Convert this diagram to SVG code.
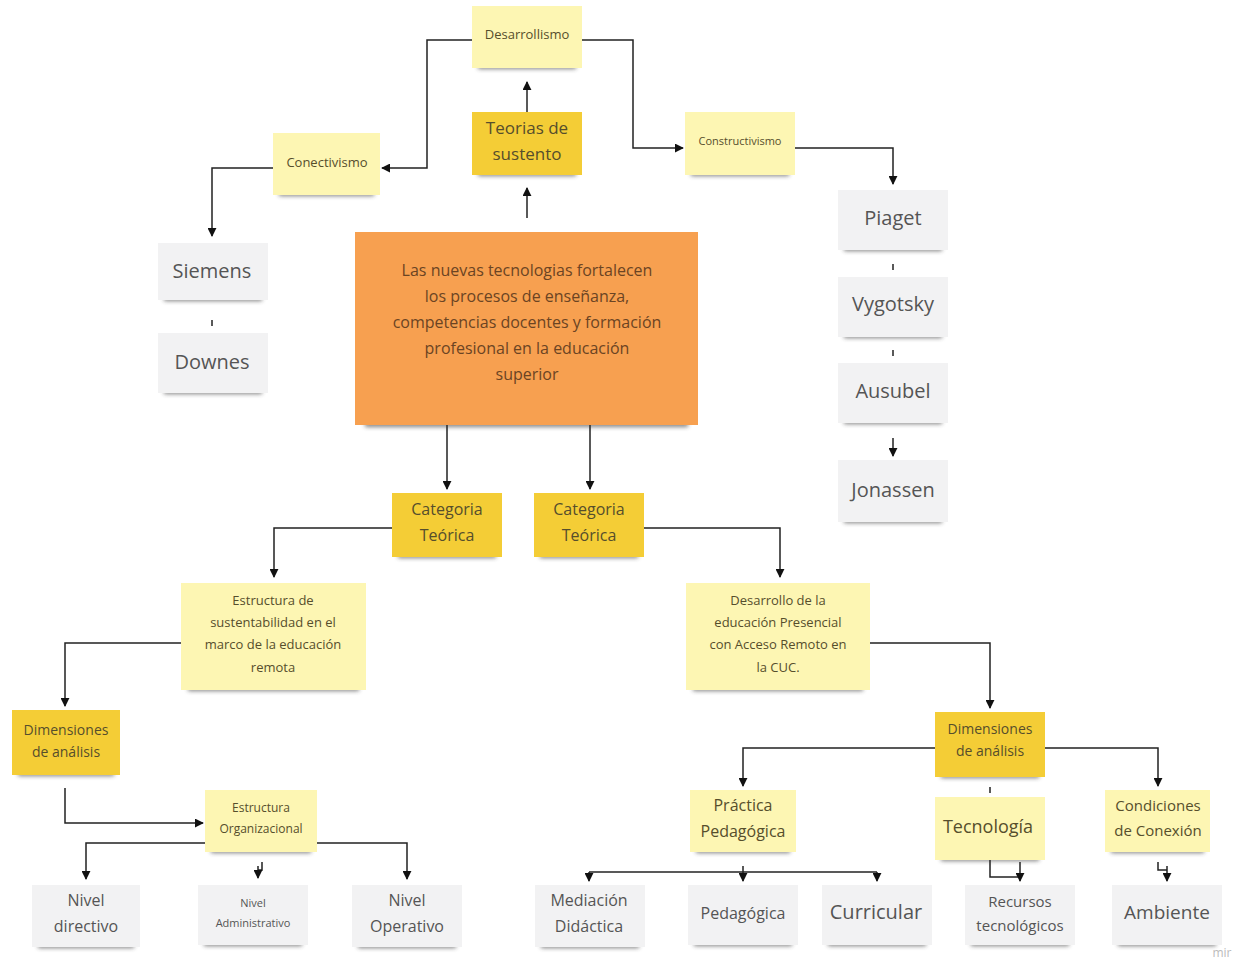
<svg xmlns="http://www.w3.org/2000/svg" width="1244" height="962" viewBox="0 0 1244 962">
<defs>
<filter id="blur" x="-20%" y="-200%" width="140%" height="500%"><feGaussianBlur stdDeviation="2"/></filter>
<marker id="ah" viewBox="0 0 10 10" refX="9" refY="5" markerWidth="9" markerHeight="9" orient="auto-start-reverse" markerUnits="userSpaceOnUse"><path d="M0,0 L10,5 L0,10 z" fill="#111"/></marker>
<style>
.bg{fill:#ffffff}
.py{fill:#fdf6b3}
.gd{fill:#f4cd36}
.gy{fill:#f2f2f3}
.or{fill:#f7a050}
.sh{fill:#333;opacity:.6;filter:url(#blur)}
text{font-family:"Open Sans","Noto Sans","Liberation Sans",sans-serif;text-anchor:middle}
.ty{fill:#564e2c}
.tg{fill:#555555}
.to{fill:#6b4423}
.ln{fill:none;stroke:#222;stroke-width:1.5}
.ar{fill:none;stroke:#222;stroke-width:1.5;marker-end:url(#ah)}
</style>
</defs>
<rect class="bg" x="0" y="0" width="1244" height="962"/>

<g id="connectors">
<path class="ar" d="M527,112 V82"/>
<path class="ar" d="M527,218 V188"/>
<path class="ar" d="M472,40 H427 V168 H382"/>
<path class="ar" d="M582,40 H633 V148 H683"/>
<path class="ar" d="M795,148 H893 V184"/>
<path class="ar" d="M273,168 H212 V236"/>
<path class="ln" d="M212,320 V326"/>
<path class="ln" d="M893,264 V270"/>
<path class="ln" d="M893,350 V356"/>
<path class="ar" d="M893,438 V456"/>
<path class="ar" d="M447,425 V489"/>
<path class="ar" d="M590,425 V489"/>
<path class="ar" d="M392,528 H274 V577"/>
<path class="ar" d="M644,528 H780 V577"/>
<path class="ar" d="M181,643 H65 V706"/>
<path class="ar" d="M65,788 V823 H203"/>
<path class="ar" d="M205,843 H86 V879"/>
<path class="ar" d="M317,843 H407 V879"/>
<path class="ln" d="M262,862 V870 H258"/>
<path class="ar" d="M258,866 V878"/>
<path class="ar" d="M870,643 H990 V708"/>
<path class="ar" d="M935,748 H743 V786"/>
<path class="ar" d="M1045,748 H1158 V786"/>
<path class="ln" d="M990,787 V793"/>
<path class="ln" d="M589,872 H877"/>
<path class="ar" d="M589,872 V881"/>
<path class="ar" d="M743,866 V881"/>
<path class="ar" d="M877,872 V881"/>
<path class="ln" d="M990,860 V877 H1020"/>
<path class="ar" d="M1020,862 V881"/>
<path class="ln" d="M1158,862 V870 H1167"/>
<path class="ar" d="M1167,866 V881"/>
</g>

<g id="desarrollismo"><rect class="sh" x="478" y="64" width="98" height="5"/><rect class="py" x="472" y="6" width="110" height="62"/><text class="ty" x="527" y="39" font-size="13">Desarrollismo</text></g>
<g id="teorias"><rect class="sh" x="478" y="171" width="98" height="5"/><rect class="gd" x="472" y="112" width="110" height="63"/><text class="ty" x="527" y="134" font-size="17">Teorias de</text><text class="ty" x="527" y="160" font-size="17">sustento</text></g>
<g id="conectivismo"><rect class="sh" x="279" y="191" width="95" height="5"/><rect class="py" x="273" y="133" width="107" height="62"/><text class="ty" x="327" y="167" font-size="13">Conectivismo</text></g>
<g id="constructivismo"><rect class="sh" x="691" y="171" width="98" height="5"/><rect class="py" x="685" y="112" width="110" height="63"/><text class="ty" x="740" y="145" font-size="11">Constructivismo</text></g>
<g id="piaget"><rect class="sh" x="844" y="246" width="98" height="5"/><rect class="gy" x="838" y="190" width="110" height="60"/><text class="tg" x="893" y="225" font-size="20">Piaget</text></g>
<g id="vygotsky"><rect class="sh" x="844" y="333" width="98" height="5"/><rect class="gy" x="838" y="277" width="110" height="60"/><text class="tg" x="893" y="311" font-size="20">Vygotsky</text></g>
<g id="ausubel"><rect class="sh" x="844" y="419" width="98" height="5"/><rect class="gy" x="838" y="363" width="110" height="60"/><text class="tg" x="893" y="398" font-size="20">Ausubel</text></g>
<g id="jonassen"><rect class="sh" x="844" y="518" width="98" height="5"/><rect class="gy" x="838" y="460" width="110" height="62"/><text class="tg" x="893" y="497" font-size="20">Jonassen</text></g>
<g id="siemens"><rect class="sh" x="164" y="296" width="98" height="5"/><rect class="gy" x="158" y="243" width="110" height="57"/><text class="tg" x="212" y="278" font-size="20">Siemens</text></g>
<g id="downes"><rect class="sh" x="164" y="389" width="98" height="5"/><rect class="gy" x="158" y="333" width="110" height="60"/><text class="tg" x="212" y="369" font-size="20">Downes</text></g>

<g id="central"><rect class="sh" x="365" y="421" width="323" height="6"/><rect class="or" x="355" y="232" width="343" height="193"/>
<text class="to" x="527" y="276" font-size="16">Las nuevas tecnologias fortalecen</text>
<text class="to" x="527" y="302" font-size="16">los procesos de enseñanza,</text>
<text class="to" x="527" y="328" font-size="16">competencias docentes y formación</text>
<text class="to" x="527" y="354" font-size="16">profesional en la educación</text>
<text class="to" x="527" y="380" font-size="16">superior</text></g>

<g id="categoria1"><rect class="sh" x="398" y="553" width="98" height="5"/><rect class="gd" x="392" y="493" width="110" height="64"/><text class="ty" x="447" y="515" font-size="16">Categoria</text><text class="ty" x="447" y="541" font-size="16">Teórica</text></g>
<g id="categoria2"><rect class="sh" x="540" y="553" width="98" height="5"/><rect class="gd" x="534" y="493" width="110" height="64"/><text class="ty" x="589" y="515" font-size="16">Categoria</text><text class="ty" x="589" y="541" font-size="16">Teórica</text></g>

<g id="estructura-sust"><rect class="sh" x="188" y="686" width="171" height="5"/><rect class="py" x="181" y="583" width="185" height="107"/>
<text class="ty" x="273" y="605" font-size="13">Estructura de</text>
<text class="ty" x="273" y="627" font-size="13">sustentabilidad en el</text>
<text class="ty" x="273" y="649" font-size="13">marco de la educación</text>
<text class="ty" x="273" y="672" font-size="13">remota</text></g>
<g id="desarrollo-cuc"><rect class="sh" x="693" y="686" width="170" height="5"/><rect class="py" x="686" y="583" width="184" height="107"/>
<text class="ty" x="778" y="605" font-size="13">Desarrollo de la</text>
<text class="ty" x="778" y="627" font-size="13">educación Presencial</text>
<text class="ty" x="778" y="649" font-size="13">con Acceso Remoto en</text>
<text class="ty" x="778" y="672" font-size="13">la CUC.</text></g>

<g id="dimensiones1"><rect class="sh" x="18" y="771" width="96" height="5"/><rect class="gd" x="12" y="710" width="108" height="65"/><text class="ty" x="66" y="735" font-size="14">Dimensiones</text><text class="ty" x="66" y="757" font-size="14">de análisis</text></g>
<g id="estructura-org"><rect class="sh" x="211" y="848" width="100" height="5"/><rect class="py" x="205" y="790" width="112" height="62"/><text class="ty" x="261" y="812" font-size="12">Estructura</text><text class="ty" x="261" y="833" font-size="12">Organizacional</text></g>
<g id="nivel-directivo"><rect class="sh" x="38" y="943" width="96" height="5"/><rect class="gy" x="32" y="885" width="108" height="62"/><text class="tg" x="86" y="906" font-size="16">Nivel</text><text class="tg" x="86" y="932" font-size="16">directivo</text></g>
<g id="nivel-administrativo"><rect class="sh" x="204" y="941" width="98" height="5"/><rect class="gy" x="198" y="885" width="110" height="60"/><text class="tg" x="253" y="907" font-size="11">Nivel</text><text class="tg" x="253" y="927" font-size="11">Administrativo</text></g>
<g id="nivel-operativo"><rect class="sh" x="358" y="943" width="98" height="5"/><rect class="gy" x="352" y="885" width="110" height="62"/><text class="tg" x="407" y="906" font-size="16">Nivel</text><text class="tg" x="407" y="932" font-size="16">Operativo</text></g>

<g id="dimensiones2"><rect class="sh" x="941" y="773" width="98" height="5"/><rect class="gd" x="935" y="712" width="110" height="65"/><text class="ty" x="990" y="734" font-size="14">Dimensiones</text><text class="ty" x="990" y="756" font-size="14">de análisis</text></g>
<g id="practica"><rect class="sh" x="696" y="848" width="94" height="5"/><rect class="py" x="690" y="790" width="106" height="62"/><text class="ty" x="743" y="811" font-size="16">Práctica</text><text class="ty" x="743" y="837" font-size="16">Pedagógica</text></g>
<g id="tecnologia"><rect class="sh" x="941" y="856" width="98" height="5"/><rect class="py" x="935" y="797" width="110" height="63"/><text class="ty" x="988" y="833" font-size="18">Tecnología</text></g>
<g id="condiciones"><rect class="sh" x="1111" y="848" width="93" height="5"/><rect class="py" x="1105" y="790" width="105" height="62"/><text class="ty" x="1158" y="811" font-size="15">Condiciones</text><text class="ty" x="1158" y="836" font-size="15">de Conexión</text></g>

<g id="mediacion"><rect class="sh" x="541" y="943" width="98" height="5"/><rect class="gy" x="535" y="885" width="110" height="62"/><text class="tg" x="589" y="906" font-size="16">Mediación</text><text class="tg" x="589" y="932" font-size="16">Didáctica</text></g>
<g id="pedagogica"><rect class="sh" x="694" y="941" width="98" height="5"/><rect class="gy" x="688" y="885" width="110" height="60"/><text class="tg" x="743" y="919" font-size="16">Pedagógica</text></g>
<g id="curricular"><rect class="sh" x="828" y="941" width="98" height="5"/><rect class="gy" x="822" y="885" width="110" height="60"/><text class="tg" x="876" y="919" font-size="20">Curricular</text></g>
<g id="recursos"><rect class="sh" x="971" y="941" width="98" height="5"/><rect class="gy" x="965" y="885" width="110" height="60"/><text class="tg" x="1020" y="907" font-size="15">Recursos</text><text class="tg" x="1020" y="931" font-size="15">tecnológicos</text></g>
<g id="ambiente"><rect class="sh" x="1118" y="941" width="98" height="5"/><rect class="gy" x="1112" y="885" width="110" height="60"/><text class="tg" x="1167" y="919" font-size="19">Ambiente</text></g>

<text x="1222" y="957" font-size="12" style="fill:#bbb">mir</text>
</svg>
